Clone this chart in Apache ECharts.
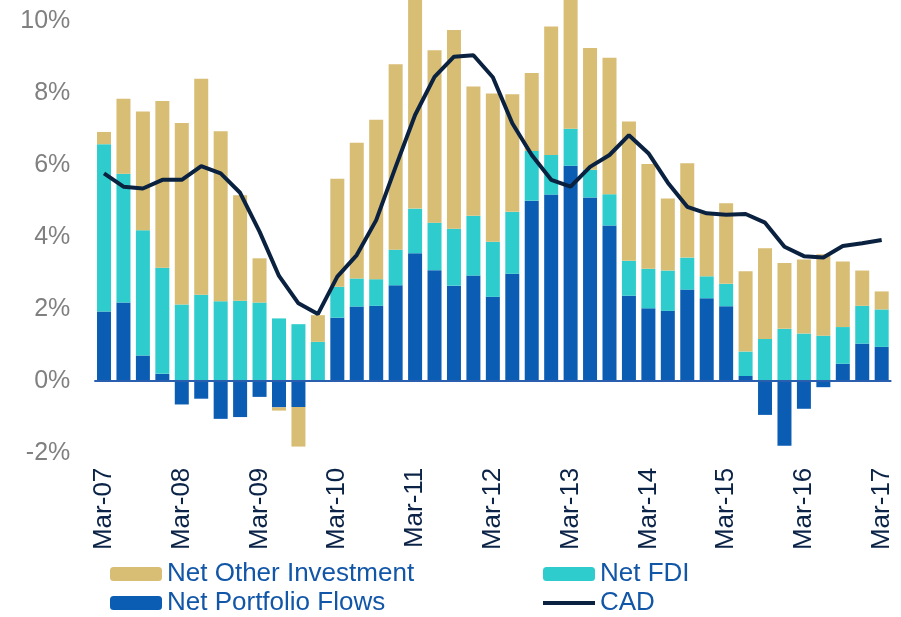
<!DOCTYPE html>
<html>
<head>
<meta charset="utf-8">
<script src="https://cdn.jsdelivr.net/npm/echarts@6/dist/echarts.min.js"></script>
<style>
    html, body { margin: 0; padding: 0; background: #fff; }
    #chart { width: 901px; height: 617px; }
</style>
</head>
<body>
<div id="chart"></div>
<script>
// 季度
var quarters = [
    'Mar-07', 'Jun-07', 'Sep-07', 'Dec-07', 'Mar-08', 'Jun-08', 'Sep-08', 'Dec-08',
    'Mar-09', 'Jun-09', 'Sep-09', 'Dec-09', 'Mar-10', 'Jun-10', 'Sep-10', 'Dec-10',
    'Mar-11', 'Jun-11', 'Sep-11', 'Dec-11', 'Mar-12', 'Jun-12', 'Sep-12', 'Dec-12',
    'Mar-13', 'Jun-13', 'Sep-13', 'Dec-13', 'Mar-14', 'Jun-14', 'Sep-14', 'Dec-14',
    'Mar-15', 'Jun-15', 'Sep-15', 'Dec-15', 'Mar-16', 'Jun-16', 'Sep-16', 'Dec-16',
    'Mar-17'
];
var portfolio = [1.92, 2.17, 0.70, 0.19, -0.66, -0.50, -1.06, -1.01, -0.45, -0.74, -0.73, 0,
    1.75, 2.06, 2.08, 2.65, 3.54, 3.07, 2.64, 2.92, 2.33, 2.97,
    5.00, 5.17, 5.97, 5.09, 4.31,
    2.36, 2.01, 1.94, 2.53, 2.29, 2.07, 0.13, -0.95, -1.81, -0.78, -0.18, 0.47, 1.03, 0.94];
var fdi = [4.65, 3.58, 3.48, 2.95, 2.12, 2.39, 2.21, 2.22, 2.17, 1.73, 1.57, 1.08,
    0.86, 0.78, 0.74, 0.99, 1.24, 1.32, 1.58, 1.66, 1.53, 1.72,
    1.38, 1.10, 1.03, 0.77, 0.87,
    0.97, 1.10, 1.12, 0.89, 0.61, 0.62, 0.68, 1.16, 1.44, 1.31, 1.25, 1.02, 1.05, 1.04];
var other = [0.34, 2.08, 3.30, 4.63, 5.04, 6.00, 4.72, 2.93, 1.23, -0.09, -1.10, 0.74,
    3.00, 3.77, 4.43, 5.15, 6.20, 4.79, 5.52, 3.59, 4.12, 3.27,
    2.17, 3.57, 3.90, 3.38, 3.79,
    3.87, 2.91, 2.00, 2.62, 1.75, 2.24, 2.23, 2.52, 1.83, 2.06, 2.26, 1.82, 0.98, 0.50];
var cad = [5.76, 5.39, 5.34, 5.58, 5.58, 5.96, 5.76, 5.22, 4.14, 2.91, 2.15, 1.85,
    2.89, 3.49, 4.46, 5.94, 7.38, 8.44, 9.00, 9.04, 8.43, 7.15,
    6.27, 5.58, 5.39, 5.94, 6.27,
    6.82, 6.32, 5.50, 4.83, 4.65, 4.61, 4.63, 4.39, 3.72, 3.46, 3.42, 3.74, 3.82, 3.91];

var FONT = '"Liberation Sans", Arial, sans-serif';
var legendText = { fontSize: 26, color: '#1256a8', fontFamily: FONT, lineHeight: 26 };
var myChart = echarts.init(document.getElementById('chart'));

var option = {
    animation: false,
    textStyle: { fontFamily: FONT },
    grid: {
        left: 94.3, right: 9.6, top: -51.3, bottom: 164.3,
        containLabel: false, outerBoundsMode: 'none'
    },
    legend: [{
        orient: 'vertical',
        left: 110, top: 561, height: 60, padding: 0,
        itemWidth: 52, itemHeight: 14, itemGap: 3,
        textStyle: legendText,
        data: ['Net Other Investment', 'Net Portfolio Flows']
    }, {
        orient: 'vertical',
        left: 543, top: 561, height: 60, padding: 0,
        itemWidth: 52, itemHeight: 14, itemGap: 3,
        textStyle: legendText,
        data: ['Net FDI', { name: 'CAD', icon: 'path://M0,0 H52 V4 H0 Z' }]
    }],
    xAxis: {
        type: 'category',
        data: quarters,
        axisLine: { show: false },
        axisTick: { show: false },
        axisLabel: {
            interval: 3, rotate: 90, margin: 15,
            fontSize: 26, color: '#0b2346', fontFamily: FONT
        }
    },
    yAxis: {
        type: 'value',
        min: -2, max: 12, interval: 2,
        splitLine: { show: false },
        axisLine: { show: false },
        axisTick: { show: false },
        axisLabel: {
            formatter: '{value}%', margin: 24,
            fontSize: 25, color: '#808080', fontFamily: FONT
        }
    },
    series: [{
        name: 'Net Portfolio Flows',
        type: 'bar', stack: 'flows', barWidth: 14,
        itemStyle: { color: '#0b5db3' },
        data: portfolio,
        markLine: {
            silent: true, symbol: 'none',
            label: { show: false },
            lineStyle: { color: '#2a5fb0', width: 2, type: 'solid' },
            data: [{ yAxis: 0 }]
        }
    }, {
        name: 'Net FDI',
        type: 'bar', stack: 'flows', barWidth: 14,
        itemStyle: { color: '#2ecccc' },
        data: fdi
    }, {
        name: 'Net Other Investment',
        type: 'bar', stack: 'flows', barWidth: 14,
        itemStyle: { color: '#d8bd75' },
        data: other
    }, {
        name: 'CAD',
        type: 'line', symbol: 'none', z: 5,
        lineStyle: { color: '#0a2240', width: 4 },
        itemStyle: { color: '#0a2240' },
        data: cad
    }]
};
myChart.setOption(option);
</script>
</body>
</html>
